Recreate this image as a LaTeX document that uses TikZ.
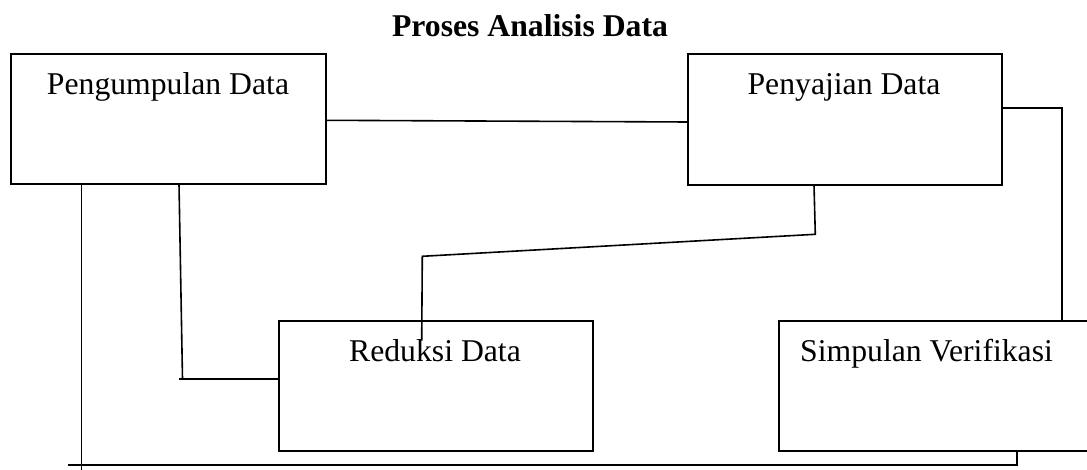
\documentclass[tikz,border=0pt]{standalone}
\usepackage{fontspec}
\setmainfont{Liberation Serif}
\begin{document}
\begin{tikzpicture}[x=1pt,y=-1pt,
  box/.style={draw, line width=1.8pt, minimum width=314pt, minimum height=130pt, inner sep=0pt, outer sep=0pt},
  lbl/.style={inner sep=0pt, font=\fontsize{31.7}{38}\selectfont},
  conn/.style={line width=1.6pt, line join=miter}]
\clip (0,0) rectangle (1087,470);
\useasboundingbox (0,0) rectangle (1087,470);
% title
\node[lbl, anchor=base, font=\fontsize{31.7}{38}\selectfont\bfseries] (title) at (530,36.7) {Proses Analisis Data};
% boxes
\node[box, minimum width=315pt] (b1) at (168.5,119) {};
\node[box, minimum height=131pt] (b2) at (845,119.5) {};
\node[box] (b3) at (436,386) {};
\node[box, minimum width=360pt] (b4) at (959,386) {};
% labels
\node[lbl, anchor=base] (t1) at (168,95) {Pengumpulan Data};
\node[lbl, anchor=base] (t2) at (844,95) {Penyajian Data};
\node[lbl, anchor=base] (t3) at (435,361.7) {Reduksi Data};
\node[lbl, anchor=base west] (t4) at (800,361.7) {Simpulan Verifikasi};
% connector coordinates
\coordinate (a1) at (326,120.3);
\coordinate (a2) at (688,122);
\coordinate (r1) at (1002,108.3);
\coordinate (r2) at (1062,108.3);
\coordinate (r3) at (1062,321);
\coordinate (m1) at (814,185);
\coordinate (m2) at (815.3,234.3);
\coordinate (m3) at (422.3,256.3);
\coordinate (m4) at (421.7,340.7);
\coordinate (p1) at (179,184);
\coordinate (p2) at (182.5,379);
\coordinate (p0) at (179,379);
\coordinate (p3) at (279,379);
\coordinate (q1) at (81.5,184);
\coordinate (q2) at (81.5,470);
\coordinate (s1) at (68,464.7);
\coordinate (s2) at (1016.7,464.7);
\coordinate (s3) at (1016.7,451);
% connectors
\draw[conn] (a1) -- (a2);
\draw[conn] (r1) -- (r2) -- (r3);
\draw[conn] (m1) -- (m2) -- (m3) -- (m4);
\draw[conn] (p1) -- (p2);
\draw[conn] (p0) -- (p3);
\draw[conn] (q1) -- (q2);
\draw[conn] (s1) -- (s2) -- (s3);
\end{tikzpicture}
\end{document}
